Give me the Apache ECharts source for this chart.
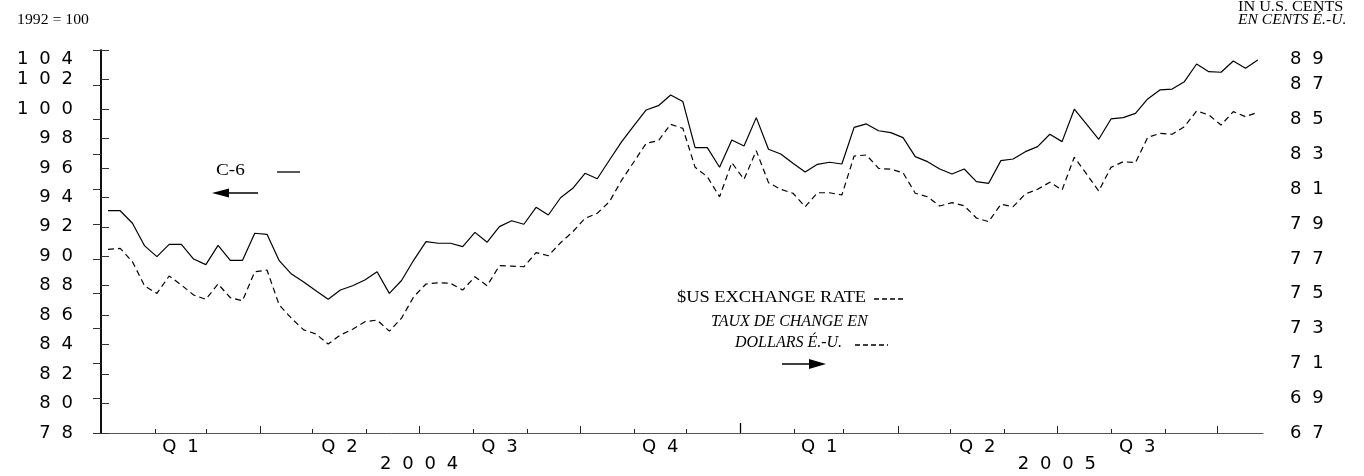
<!DOCTYPE html>
<html><head><meta charset="utf-8">
<script src="https://cdn.jsdelivr.net/npm/echarts@6/dist/echarts.min.js"></script>
<style>html,body{margin:0;padding:0;background:#fff}#c{width:1364px;height:476px}</style>
</head><body><div id="c"></div>
<script>
// Weekly observations, first week 2004-01-05
const firstWeek = '2004-01-05';
const c6Index = [93.09,93.09,92.24,90.7,89.97,90.81,90.81,89.81,89.43,90.74,89.72,89.72,91.56,91.49,89.7,88.79,88.25,87.66,87.08,87.71,88.0,88.39,88.95,87.48,88.35,89.74,90.99,90.88,90.88,90.65,91.62,90.95,92.01,92.41,92.17,93.32,92.8,93.97,94.61,95.63,95.26,96.53,97.78,98.86,99.93,100.22,100.95,100.5,97.37,97.37,96.04,97.89,97.48,99.41,97.26,96.94,96.31,95.72,96.24,96.38,96.26,98.75,98.98,98.52,98.39,98.05,96.76,96.42,95.92,95.58,95.92,95.06,94.95,96.49,96.6,97.1,97.44,98.28,97.78,99.98,98.96,97.94,99.32,99.41,99.7,100.68,101.29,101.35,101.85,103.05,102.53,102.49,103.25,102.76,103.32];
const usRate = [77.55,77.6,76.84,75.44,75.02,76.02,75.5,74.93,74.68,75.56,74.77,74.6,76.26,76.36,74.35,73.59,72.92,72.69,72.11,72.63,72.96,73.39,73.49,72.85,73.6,74.83,75.56,75.63,75.6,75.21,75.98,75.46,76.61,76.59,76.55,77.36,77.18,77.93,78.56,79.33,79.62,80.29,81.53,82.58,83.64,83.79,84.73,84.5,82.26,81.72,80.57,82.53,81.57,83.22,81.38,81.0,80.77,80.0,80.8,80.8,80.67,82.91,82.97,82.2,82.15,81.95,80.77,80.57,80.04,80.23,80.05,79.35,79.14,80.14,80.0,80.73,81.0,81.4,80.96,82.84,81.88,80.9,82.26,82.58,82.53,83.98,84.21,84.16,84.59,85.5,85.27,84.69,85.46,85.17,85.42];
const quarterLabels = ['Q1','Q2','Q3','Q4','Q1','Q2','Q3'];
const yearLabels = ['2004','2005'];
const leftTicks = [78,80,82,84,86,88,90,92,94,96,98,100,102,104];
const rightTicks = [67,69,71,73,75,77,79,81,83,85,87,89];

const DAY = 86400000;
const origin = Date.UTC(2004,0,1);
const dayOf = (y,m,d) => (Date.UTC(y,m,d||1) - origin) / DAY;
const startDay = (Date.parse(firstWeek + 'T00:00:00Z') - origin) / DAY;
const weekDays = c6Index.map((_, i) => startDay + 7*i);
const endDay = dayOf(2005, 9, 27);

const monthStarts = [], quarterStarts = [], yearStarts = [dayOf(2005,0,1)];
for (let y = 2004; y <= 2005; y++) for (let m = 0; m < 12; m++) {
  const d = dayOf(y, m, 1);
  if (d <= 0 || d > endDay) continue;
  monthStarts.push(d);
  if (m % 3 === 0 && m !== 0) quarterStarts.push(d);
}
const quarterMids = [];
for (let i = 0; i < quarterLabels.length; i++) {
  const y = 2004 + Math.floor(i/4), q = i % 4;
  quarterMids.push((dayOf(y, q*3, 1) + dayOf(y, q*3+3, 1)) / 2);
}
const yearMids = yearLabels.map(y => dayOf(+y, 6, 1));

const GAP = '\u2002\u200A';
const spaced = s => String(s).split('').join(GAP);
const axisFont = { fontFamily: 'DejaVu Sans', fontSize: 18, color: '#000' };

const xBase = { type: 'value', min: 0, max: endDay, gridIndex: 0, position: 'bottom',
  splitLine: { show: false }, axisLabel: { show: false }, axisTick: { show: false },
  axisLine: { show: false } };

const option = {
  animation: false,
  backgroundColor: '#fff',
  grid: { left: 101, right: 101, top: 50, bottom: 43 },
  xAxis: [
    Object.assign({}, xBase, { axisLine: { show: true, lineStyle: { color: '#555', width: 1 } },
      axisTick: { show: true, inside: true, length: 4, customValues: monthStarts, lineStyle: { color: '#222' } } }),
    Object.assign({}, xBase, { axisTick: { show: true, inside: true, length: 7, customValues: quarterStarts, lineStyle: { color: '#222' } } }),
    Object.assign({}, xBase, { axisTick: { show: true, inside: true, length: 10, customValues: yearStarts, lineStyle: { color: '#000', width: 1.3 } } }),
    Object.assign({}, xBase, { axisLabel: Object.assign({ show: true, margin: 5, customValues: quarterMids,
      formatter: v => spaced(quarterLabels[quarterMids.indexOf(v)] || '') }, axisFont) }),
    Object.assign({}, xBase, { axisLabel: Object.assign({ show: true, margin: 22, customValues: yearMids,
      formatter: v => spaced(yearLabels[yearMids.indexOf(v)] || '') }, axisFont) })
  ],
  yAxis: [
    { type: 'value', position: 'left', min: 78, max: 104, interval: 2, splitLine: { show: false },
      axisLine: { show: true, lineStyle: { color: '#000', width: 1.5 } },
      axisTick: { show: true, inside: true, length: 8, lineStyle: { color: '#333' } },
      axisLabel: Object.assign({ margin: 28, customValues: leftTicks, formatter: v => spaced(v), verticalAlignMaxLabel: 'top' }, axisFont) },
    { type: 'value', position: 'right', min: 67, max: 89, interval: 2, splitLine: { show: false },
      axisLine: { show: true, lineStyle: { color: '#000', width: 1.5 } },
      axisTick: { show: true, inside: true, length: 8, lineStyle: { color: '#333' } },
      axisLabel: Object.assign({ margin: 27, customValues: rightTicks, formatter: v => spaced(v), verticalAlignMaxLabel: 'top' }, axisFont) }
  ],
  series: [
    { name: 'C-6', type: 'line', xAxisIndex: 0, yAxisIndex: 0, showSymbol: false,
      data: c6Index.map((v, i) => [weekDays[i], v]),
      lineStyle: { color: '#000', width: 1.2 } },
    { name: '$US EXCHANGE RATE', type: 'line', xAxisIndex: 0, yAxisIndex: 1, showSymbol: false,
      data: usRate.map((v, i) => [weekDays[i], v]),
      lineStyle: { color: '#000', width: 1.2, type: [6, 4] } }
  ],
  graphic: [
    { type: 'text', left: 17, top: 13, scaleX: 1.05, style: { text: '1992 = 100', font: '15px "Liberation Serif"', fill: '#000' } },
    { type: 'text', left: 1238, top: 0, scaleX: 1.08, style: { text: 'IN U.S. CENTS', font: '15px "Liberation Serif"', fill: '#000' } },
    { type: 'text', left: 1238, top: 13, scaleX: 1.04, style: { text: 'EN CENTS É.-U.', font: 'italic 15px "Liberation Serif"', fill: '#000' } },
    { type: 'text', left: 216, top: 163, scaleX: 1.2, style: { text: 'C-6', font: '16px "Liberation Serif"', fill: '#000' } },
    { type: 'line', shape: { x1: 277, y1: 172, x2: 300, y2: 172 }, style: { stroke: '#000', lineWidth: 1.3 } },
    { type: 'line', shape: { x1: 226, y1: 193, x2: 258, y2: 193 }, style: { stroke: '#000', lineWidth: 1.5 } },
    { type: 'polygon', shape: { points: [[212,193],[229,188.5],[229,197.5]] }, style: { fill: '#000' } },
    { type: 'text', left: 677, top: 290, scaleX: 1.15, style: { text: '$US EXCHANGE RATE', font: '16px "Liberation Serif"', fill: '#000' } },
    { type: 'line', shape: { x1: 874, y1: 299, x2: 906, y2: 299 }, style: { stroke: '#000', lineWidth: 1.3, lineDash: [5, 3] } },
    { type: 'text', left: 711, top: 314, style: { text: 'TAUX DE CHANGE EN', font: 'italic 16px "Liberation Serif"', fill: '#000' } },
    { type: 'text', left: 735, top: 335, style: { text: 'DOLLARS É.-U.', font: 'italic 16px "Liberation Serif"', fill: '#000' } },
    { type: 'line', shape: { x1: 855, y1: 345, x2: 888, y2: 345 }, style: { stroke: '#000', lineWidth: 1.3, lineDash: [5, 3] } },
    { type: 'line', shape: { x1: 782, y1: 364, x2: 811, y2: 364 }, style: { stroke: '#000', lineWidth: 1.5 } },
    { type: 'polygon', shape: { points: [[826,364],[809,359],[809,369]] }, style: { fill: '#000' } }
  ]
};
echarts.init(document.getElementById('c')).setOption(option);
</script></body></html>
